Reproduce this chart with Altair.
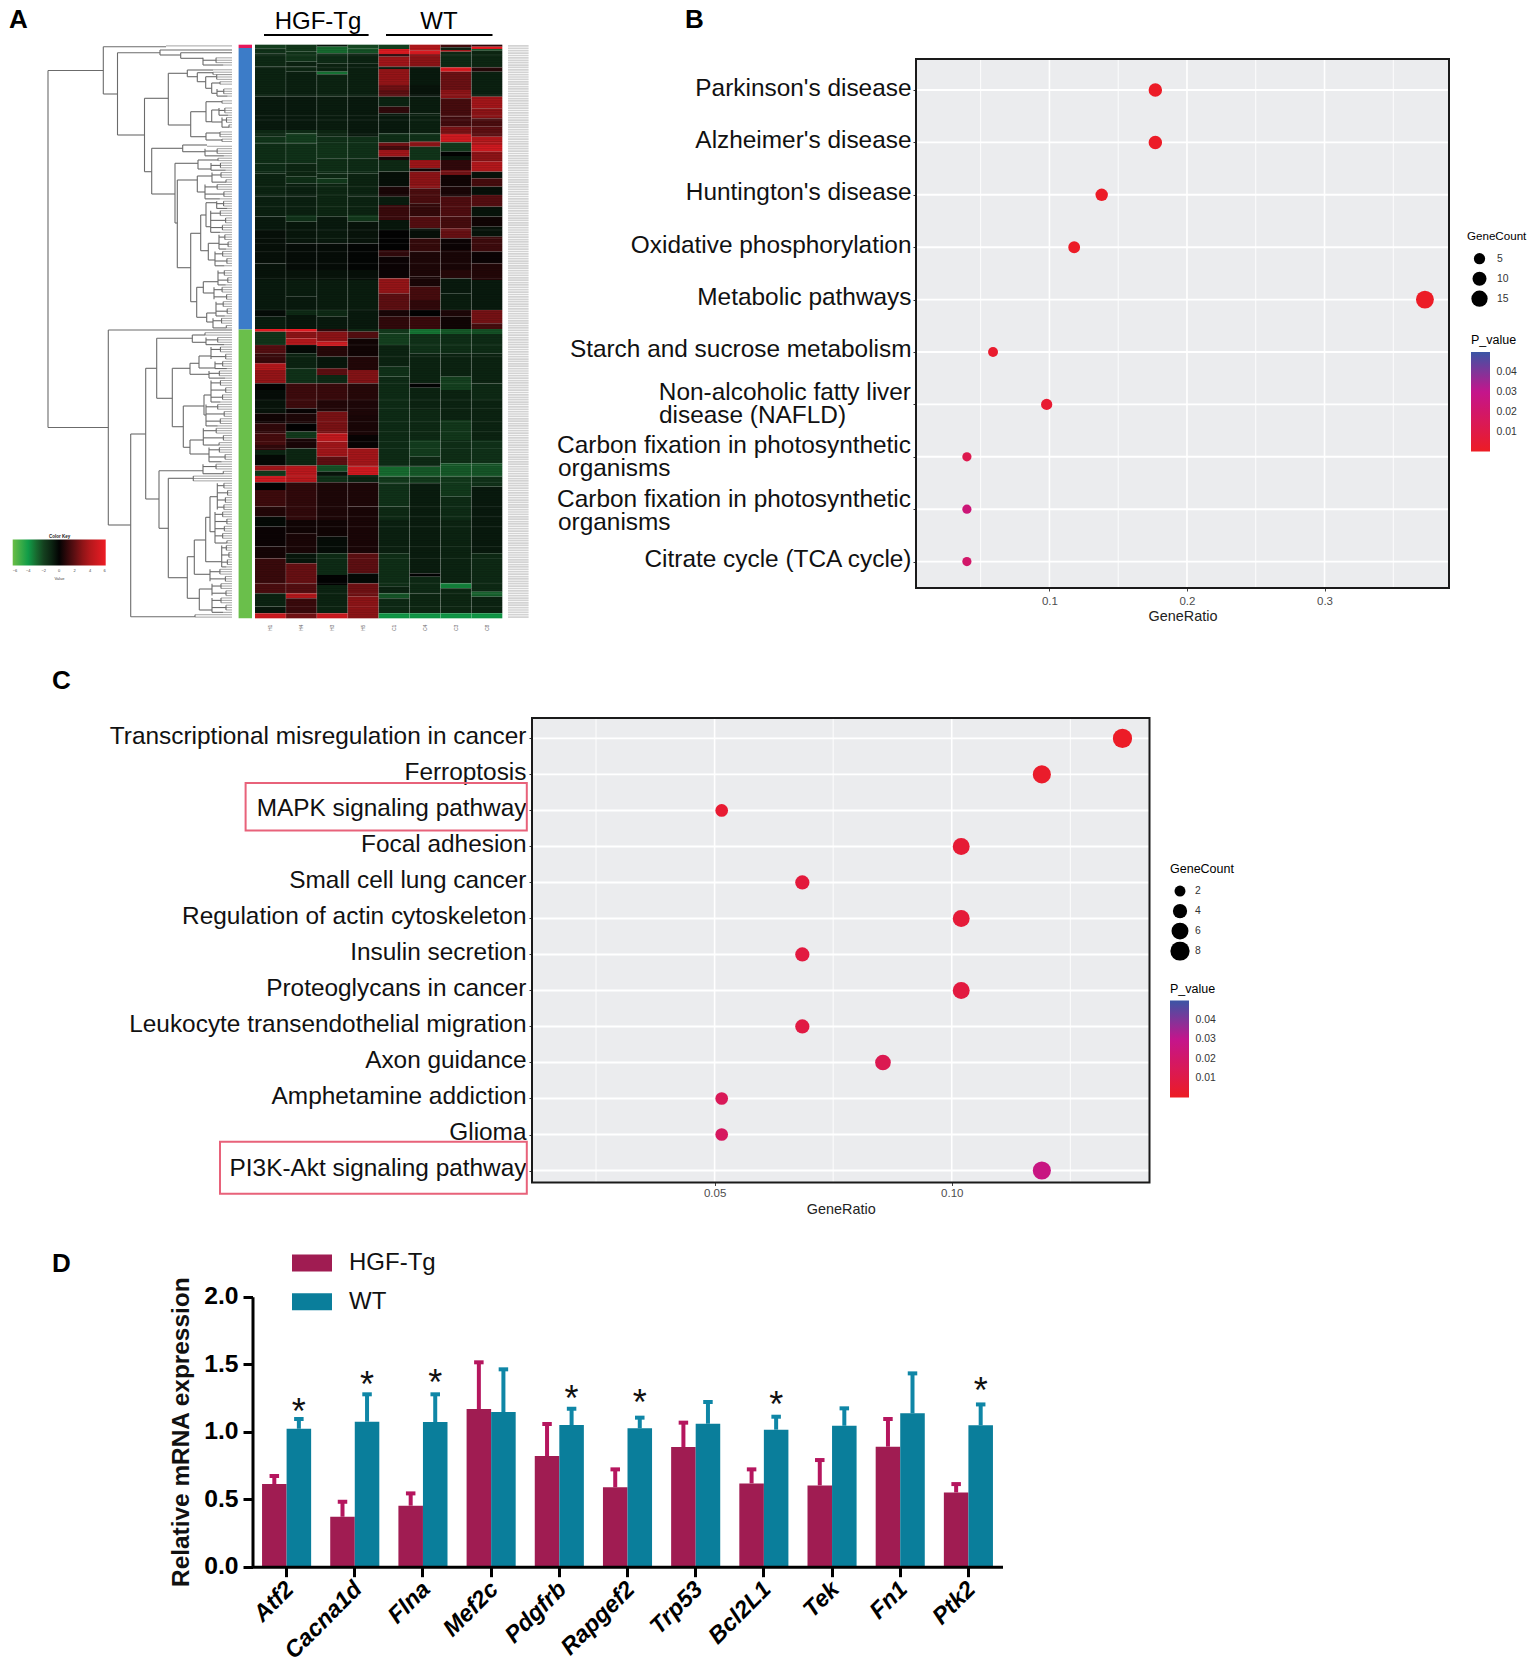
import altair as alt
import pandas as pd

FONT = "Liberation Sans"
PAGE_W, PAGE_H = 1519, 1649


def P(v):
    """reference-picture pixel -> position inside the svg (the page has an 8px margin)"""
    return v - 8


# ---------------------------------------------------------------- panel A data
samples = ["H1", "H4", "H3", "H5", "C1", "C4", "C3", "C8"]
# per sample: runs of (end of run, expression value), upper block of rows
heat_top_start = 44
heat_top = {
    "H1": [(55, -2.0), (70, -1.5), (110, -1.2), (200, -1), (300, -.7), (320, -1.2), (340, -1.6), (400, -1.4), (430, -1.3), (500, -1), (560, -.9), (600, -.7), (700, -.4), (750, -.5), (840, -.7), (860, -.3), (897, -.8)],
    "H4": [(65, -1.7), (95, -1.6), (110, -1), (125, -1.1), (200, -.9), (300, -.7), (310, -1.3), (340, -1.9), (400, -1.5), (440, -1.1), (460, -1.4), (500, -.9), (555, -.9), (575, -1.5), (640, -.6), (720, -.3), (750, -.5), (800, -.8), (840, -.7), (855, -1.2), (897, -.6)],
    "H3": [(50, -.6), (70, -3), (100, -1.3), (125, -1), (133, -3.2), (200, -1), (300, -.8), (320, -1.1), (345, -1.5), (385, -1.6), (430, -1.4), (445, -1.2), (460, -1.8), (560, -1.1), (640, -.7), (720, -.3), (750, -.5), (840, -.8), (860, -1.2), (897, -.7)],
    "H5": [(55, -2.2), (70, -2.4), (100, -1), (200, -.9), (320, -.7), (345, -1.5), (385, -1.5), (430, -1.3), (500, -1), (555, -1), (575, -1.7), (640, -.5), (720, -.1), (750, -.4), (840, -.8), (897, -.7)],
    "C1": [(57, -2), (72, 5.5), (80, 1), (110, 3.5), (117, -.8), (165, 3.2), (180, 2.4), (200, 2), (230, -1), (250, 1), (310, -.7), (338, -1.4), (348, 2.5), (360, 1.5), (380, 3.5), (390, .5), (425, -1.2), (470, -.4), (500, .5), (525, -.8), (570, 1.2), (600, -.6), (660, 0), (680, 1), (745, .2), (790, 3.2), (840, 2), (860, .5), (897, 1)],
    "C4": [(62, 4), (72, 5.5), (110, 3), (165, -.7), (200, -.5), (250, -.8), (310, -.9), (335, -1.5), (350, 3), (390, -1.6), (415, 3.4), (425, .3), (475, 3), (520, 1.6), (560, 1.1), (595, 1.8), (625, -.4), (665, 1.1), (740, .6), (770, .5), (810, 1.5), (840, 1), (860, 0), (897, 1.2)],
    "C3": [(52, 1.5), (60, -1), (65, 4), (112, -1.2), (125, 5.5), (180, 2.3), (205, 3), (260, 1.5), (290, 1.4), (312, 2.6), (337, 5), (365, -1.8), (378, 0), (390, -.7), (420, 1), (435, 2.5), (470, .3), (500, .5), (560, 1.7), (595, 1.5), (625, 2.2), (660, .2), (720, .5), (745, .8), (790, -.7), (840, -.8), (860, .6), (897, .3)],
    "C8": [(50, 1), (57, 6), (62, -2.5), (112, -1.1), (125, .8), (200, -.9), (235, 3.6), (265, 3), (290, 1.6), (320, 2), (345, 4), (365, 5), (395, 3), (425, 4), (445, -.5), (470, 1.5), (495, -.4), (530, 1.8), (560, -.5), (590, .3), (620, -.5), (665, 1.3), (700, .2), (750, .7), (840, -.7), (880, 2.5), (897, 1.5)],
}
# same, lower block of rows
heat_bottom_start = 27
heat_bottom = {
    "H1": [(35, 6.2), (75, -1.6), (100, 1.8), (130, 1.2), (150, 4), (190, 3.2), (210, 0), (240, -.3), (280, -.5), (310, .3), (340, 1), (375, 1.5), (390, 1), (405, -1), (437, -.2), (452, 3.5), (468, -1.8), (487, 5), (510, 0), (560, 1.3), (590, .7), (620, -.2), (680, .2), (715, .4), (790, 1.2), (820, 1.6), (860, -1), (880, -.6), (895, 5)],
    "H4": [(35, 6.2), (55, 3), (75, 4), (100, -.2), (145, -1), (190, -1.5), (265, 1.3), (280, .1), (310, .6), (335, 0), (355, -1.8), (385, .5), (437, -1.1), (487, 4.2), (600, 1), (640, .3), (700, .5), (730, -.6), (790, 2.2), (820, 1.8), (835, 4), (880, 1.2), (895, 2.5)],
    "H3": [(35, 1), (65, 3), (78, 5), (110, .8), (145, -.6), (165, 2), (190, -1.2), (240, 1.2), (275, .7), (340, 2.6), (365, 4.5), (410, 3.5), (435, 2), (455, -2.4), (468, -.5), (487, -1.5), (600, .6), (650, .3), (700, -.3), (765, -1.3), (795, 0), (880, -1), (895, 5)],
    "H5": [(35, -1.2), (55, 1.8), (110, .3), (150, .7), (190, 2.8), (240, .8), (285, .6), (345, .5), (385, .1), (440, 3.6), (465, 5), (487, -1), (560, .6), (700, .5), (760, 2), (790, -.2), (830, 2.4), (895, 3)],
    "C1": [(40, -1.8), (75, -2), (140, -1), (170, -1.5), (440, -1.3), (470, -3), (490, -1.8), (560, -1.5), (600, -1.2), (700, -.9), (800, -1.4), (820, -1), (835, -2.5), (880, -1.2), (895, -4)],
    "C4": [(42, -3.2), (100, -1.5), (190, -1), (203, 0), (270, -1), (360, -1.2), (410, -1.9), (440, -1.2), (470, -2.6), (490, -1.8), (760, -.8), (770, 0), (820, -1.2), (880, -1.1), (895, -4)],
    "C3": [(42, -2.6), (100, -1.4), (170, -1), (210, -2), (300, -1), (360, -1.7), (430, -1.4), (470, -2.6), (530, -1.8), (600, -1.3), (790, -1), (805, -3.5), (880, -1.1), (895, -4)],
    "C8": [(42, -2.4), (100, -1.3), (190, -1), (240, -1.2), (360, -1), (430, -1.5), (470, -2.5), (500, -1.5), (700, -.7), (815, -1.2), (830, -2.8), (880, -1), (895, -4)],
}
# faint light lines that cross the whole heatmap
heat_lines_top = [75, 112, 195, 257, 270, 312, 338, 425, 470, 495, 530, 560, 600, 625, 640, 665, 700, 745, 840]
heat_lines_bottom = [75, 110, 190, 240, 265, 305, 335, 365, 385, 437, 468, 487, 560, 590, 620, 680, 715, 790, 820, 860]
heat_key_ticks = [-6, -4, -2, 0, 2, 4, 6]
heat_stops = [-6, -4, -3, -2, -1, 0, 2, 3, 4, 6]
heat_stop_colors = ["#6abd45", "#109c48", "#176c30", "#14401f", "#0c2412", "#030303", "#5e0f12", "#8e1417", "#b5181c", "#ed1c24"]
cluster_bands = [("top", 44.7, 48, "#e6175b"), ("up", 48, 329.5, "#3c7cc8"), ("down", 329.5, 618.3, "#6abf4b")]

# dendrogram: fork = (joint, upper leaf position, lower leaf position, upper branch end, lower branch end)
dendro_forks = [
    (48, 70.5, 427.5, 103.3, 108.3), (103.3, 46.7, 94, 166, 117.5), (117.5, 52.7, 135, 160, 144.5),
    (160, 50, 55, 232, 180.7), (180.7, 52.7, 58.3, 232, 203), (144.5, 98.3, 171.7, 168.3, 151.7),
    (168.3, 73.3, 125, 187.3, 190.7), (187.3, 70, 76.7, 213, 197.3), (197.3, 72.7, 81.7, 213, 205.7),
    (205.7, 76.7, 88.3, 216.7, 211.7), (211.7, 83, 93.3, 220, 217), (190.7, 111.7, 136.7, 206, 206),
    (206, 101.7, 121.7, 222, 211.7), (211.7, 110, 122, 219, 222), (206, 133, 140, 220, 222),
    (151.7, 148.3, 194, 182.7, 175), (182.7, 145, 151.7, 207, 205), (175, 163.3, 223, 198, 177.3),
    (198, 160, 169, 218, 211), (177.3, 180, 267.7, 197.3, 190.7), (197.3, 176, 192, 212, 205),
    (190.7, 233.3, 301.7, 200.7, 196.7), (200.7, 215, 250.7, 206, 208.3), (206, 202.7, 226.7, 216.7, 210.7),
    (208.3, 243.3, 260, 219, 215), (196.7, 287.3, 317.3, 203.3, 206.7), (203.3, 281.7, 293, 218, 214),
    (206.7, 313, 322, 216, 213),
    (108.3, 330, 525, 232, 130.7), (130.7, 434, 616.7, 145.7, 195), (145.7, 368.3, 499, 156.7, 159),
    (156.7, 338.3, 398.3, 192.3, 172.3), (192.3, 335, 342.3, 205, 206), (172.3, 368.3, 426.7, 190, 183.3),
    (190, 363.3, 374.3, 199, 209), (199, 356, 368, 211, 215), (183.3, 406, 447.3, 204, 190),
    (204, 395, 415, 211, 206), (190, 440, 454, 203.3, 209), (159, 470.7, 528.3, 203, 168.3),
    (168.3, 478.3, 577.7, 193.3, 187.3), (187.3, 556.7, 598.3, 194.3, 199.3), (194.3, 540, 574.3, 205.7, 210),
    (205.7, 517.3, 561.7, 210, 221.7), (210, 496.7, 531.7, 217.3, 215), (199.3, 589, 610, 212, 212),
]
# terminal groups of leaves: (joint, first leaf position, last leaf position)
dendro_combs = [
    (166, 45.5, 48), (203, 57, 66), (213, 68, 72), (213, 71, 75), (216.7, 74, 80), (220, 81, 86), (217, 88, 97),
    (222, 99, 105), (219, 106, 116), (222, 117, 128), (220, 130, 137), (222, 138, 142), (207, 144, 146.5),
    (205, 147.5, 156), (218, 156, 163), (211, 163, 172), (212, 172, 184), (205, 184, 200), (216.7, 200, 210),
    (210.7, 210, 233), (219, 233, 250), (215, 250, 268), (218, 270, 286), (214, 286, 300), (216, 300, 318),
    (213, 318, 329), (205, 331, 337), (206, 337, 347), (211, 347, 361), (215, 361, 369), (209, 369, 379),
    (211, 379, 404), (206, 404, 426), (203.3, 426, 446), (209, 446, 462), (203, 462, 476), (193.3, 476, 481),
    (217.3, 481, 510), (215, 510, 545), (221.7, 545, 568), (210, 568, 582), (212, 582, 597), (212, 597, 614),
    (195, 614, 618),
]
leaf_first, leaf_step, leaf_count = 45.9, 2.39, 240
twig_share = [.45, .7, .55]

# ---------------------------------------------------------------- panel B data
b_terms = ["Parkinson's disease", "Alzheimer's disease", "Huntington's disease", "Oxidative phosphorylation",
           "Metabolic pathways", "Starch and sucrose metabolism", "Non-alcoholic fatty liver disease (NAFLD)",
           "Carbon fixation in photosynthetic organisms", "Carbon fixation in photosynthetic organisms (2)",
           "Citrate cycle (TCA cycle)"]
b_ratio = [.177, .177, .138, .118, .373, .059, .098, .04, .04, .04]
b_count = [9, 9, 7, 6, 19, 3, 5, 2, 2, 2]
b_pvalue = [.001, .001, .001, .001, .0005, .003, .004, .012, .024, .02]
b_wrapped_first = [("Non-alcoholic fatty liver disease (NAFLD)", "Non-alcoholic fatty liver"),
                   ("Carbon fixation in photosynthetic organisms", "Carbon fixation in photosynthetic")]
b_wrapped_first_low = [("Carbon fixation in photosynthetic organisms (2)", "Carbon fixation in photosynthetic")]
b_major, b_minor = [.1, .2, .3], [.05, .15, .25, .35]

# ---------------------------------------------------------------- panel C data
c_terms = ["Transcriptional misregulation in cancer", "Ferroptosis", "MAPK signaling pathway", "Focal adhesion",
           "Small cell lung cancer", "Regulation of actin cytoskeleton", "Insulin secretion", "Proteoglycans in cancer",
           "Leukocyte transendothelial migration", "Axon guidance", "Amphetamine addiction", "Glioma",
           "PI3K-Akt signaling pathway"]
c_ratio = [.136, .119, .0515, .102, .0685, .102, .0685, .102, .0685, .0855, .0515, .0515, .119]
c_count = [8, 7, 3, 6, 4, 6, 4, 6, 4, 5, 3, 3, 7]
c_pvalue = [.001, .002, .004, .005, .007, .006, .008, .008, .009, .013, .015, .017, .027]
c_major, c_minor = [.05, .10], [.025, .075, .125]

# ---------------------------------------------------------------- panel D data
genes = ["Atf2", "Cacna1d", "Flna", "Mef2c", "Pdgfrb", "Rapgef2", "Trp53", "Bcl2L1", "Tek", "Fn1", "Ptk2"]
hgf_mean = [.612, .37, .452, 1.168, .82, .588, .886, .617, .602, .889, .55]
hgf_upper = [.672, .481, .543, 1.514, 1.057, .721, 1.067, .721, .79, 1.094, .612]
wt_mean = [1.022, 1.074, 1.072, 1.146, 1.049, 1.025, 1.059, 1.015, 1.044, 1.136, 1.047]
wt_upper = [1.094, 1.277, 1.277, 1.462, 1.17, 1.104, 1.22, 1.111, 1.173, 1.432, 1.202]
star_genes = ["Atf2", "Cacna1d", "Flna", "Pdgfrb", "Rapgef2", "Bcl2L1", "Ptk2"]
star_level = [1.2, 1.40, 1.41, 1.296, 1.264, 1.247, 1.35]
groups = ["HGF-Tg", "WT"]
group_colors = ["#a01c52", "#0a7e9b"]
err_colors = ["#b5165e", "#0f86a6"]


# ---------------------------------------------------------------- helpers
def note(text, x, y, size, weight="normal", align="left", color="black", baseline="alphabetic"):
    return alt.Chart(alt.Data(values=[{"t": text}])).mark_text(
        font=FONT, fontSize=size, fontWeight=weight, align=align, baseline=baseline, color=color
    ).encode(text="t:N", x=alt.value(P(x)), y=alt.value(P(y)))


def box(x0, x1, y0, y1, fill=None, stroke=None, width=0):
    df = pd.DataFrame({"a": [0], "b": [1], "c": [0], "d": [1]})
    kw = dict(fill=fill, strokeWidth=width)
    if fill is None:
        kw = dict(filled=False, strokeWidth=width, fillOpacity=0)
    if stroke:
        kw["stroke"] = stroke
    return alt.Chart(df).mark_rect(**kw).encode(
        x=alt.X("a:Q", scale=alt.Scale(domain=[0, 1], range=[P(x0), P(x1)]), axis=None),
        x2="b:Q",
        y=alt.Y("c:Q", scale=alt.Scale(domain=[0, 1], range=[P(y0), P(y1)]), axis=None),
        y2="d:Q",
    )


# ---------------------------------------------------------------- panel A layers
HX0, HX1, HY0, HY1 = 255, 502.3, 44.67, 618.3
heat_rows = []
for s in samples:
    start = heat_top_start
    for end, v in heat_top[s]:
        heat_rows.append({"sample": s, "r0": 30 + start / 3, "r1": 30 + end / 3, "value": v})
        start = end
    start = heat_bottom_start
    for end, v in heat_bottom[s]:
        heat_rows.append({"sample": s, "r0": 320 + start / 3, "r1": 320 + end / 3, "value": v})
        start = end
heat_df = pd.DataFrame(heat_rows)
row_scale = lambda: alt.Scale(domain=[HY0, HY1], range=[P(HY0), P(HY1)])

heat = alt.Chart(heat_df).mark_rect(stroke=None).encode(
    x=alt.X("sample:N", sort=samples, title=None,
            scale=alt.Scale(type="band", domain=samples, range=[P(HX0), P(HX1)], paddingInner=0, paddingOuter=0),
            axis=alt.Axis(orient="bottom", offset=P(HY1) - PAGE_H, labelAngle=270, labelFontSize=5,
                          labelColor="#666", ticks=False, domain=False, labelPadding=9, grid=False,
                          labelAlign="center", labelBaseline="middle")),
    y=alt.Y("r0:Q", scale=row_scale(), axis=None),
    y2="r1:Q",
    color=alt.Color("value:Q", scale=alt.Scale(domain=heat_stops, range=heat_stop_colors, interpolate="rgb"),
                    legend=alt.Legend(orient="none", direction="horizontal", legendX=P(12.7), legendY=P(534),
                                      title="Color Key", titleFontSize=4.5, titleAnchor="middle", titleFontWeight="bold",
                                      titlePadding=1, gradientLength=93, gradientThickness=26, labelFontSize=4,
                                      values=heat_key_ticks, format="d", labelColor="#444", titleColor="#222",
                                      labelOffset=3, tickCount=7)),
)
heat_sep = alt.Chart(pd.DataFrame({"k": list(range(1, 8))})).mark_rule(color="#ffffff", opacity=.2, strokeWidth=.7).encode(
    x=alt.X("k:Q", scale=alt.Scale(domain=[0, 8], range=[P(HX0), P(HX1)]), axis=None),
    y=alt.value(P(HY0)), y2=alt.value(P(HY1)),
)
heat_light = alt.Chart(pd.DataFrame({"r": [30 + z / 3 for z in heat_lines_top] + [320 + z / 3 for z in heat_lines_bottom]})).mark_rule(
    color="#ffffff", opacity=.13, strokeWidth=.7).encode(
    y=alt.Y("r:Q", scale=row_scale(), axis=None), x=alt.value(P(HX0)), x2=alt.value(P(HX1)),
)
leaves = [leaf_first + k * leaf_step for k in range(leaf_count)]
heat_dark = alt.Chart(pd.DataFrame({"r": leaves})).mark_rule(color="#000000", opacity=.16, strokeWidth=.8).encode(
    y=alt.Y("r:Q", scale=row_scale(), axis=None), x=alt.value(P(HX0)), x2=alt.value(P(HX1)),
)
bands = alt.Chart(pd.DataFrame(cluster_bands, columns=["name", "r0", "r1", "col"])).mark_rect().encode(
    x=alt.value(P(238.6)), x2=alt.value(P(252)),
    y=alt.Y("r0:Q", scale=row_scale(), axis=None), y2="r1:Q",
    color=alt.Color("col:N", scale=None, legend=None),
)
strip_df = pd.DataFrame({"r0": [r - .8 for r in leaves], "r1": [r + .9 for r in leaves]})
strip = alt.Chart(strip_df).mark_rect(color="#d3d3d3").encode(
    x=alt.value(P(508)), x2=alt.value(P(528.6)),
    y=alt.Y("r0:Q", scale=row_scale(), axis=None), y2="r1:Q",
)
seg_dark, seg_leaf = [], []
for j, a, b, ca, cb in dendro_forks:
    seg_dark.append((j, j, a, b))
    seg_dark.append((j, ca, a, a))
    seg_dark.append((j, cb, b, b))
for j, a, b in dendro_combs:
    rows = [r for r in leaves if a <= r <= b] or [(a + b) / 2]
    seg_dark.append((j, j, rows[0], rows[-1]))
    if len(rows) < 4:
        for r in rows:
            seg_leaf.append((j, 232, r, r))
        continue
    for i in range(0, len(rows), 3):
        part = rows[i:i + 3]
        mid = j + (232 - j) * twig_share[(i // 3) % 3]
        centre = part[len(part) // 2]
        seg_dark.append((j, mid, centre, centre))
        seg_dark.append((mid, mid, part[0], part[-1]))
        for r in part:
            seg_leaf.append((mid, 232, r, r))


def dendro(seg, color, width):
    df = pd.DataFrame(seg, columns=["d0", "d1", "r0", "r1"])
    return alt.Chart(df).mark_rule(color=color, strokeWidth=width).encode(
        x=alt.X("d0:Q", scale=alt.Scale(domain=[48, 232], range=[P(48), P(232)]), axis=None),
        x2="d1:Q",
        y=alt.Y("r0:Q", scale=row_scale(), axis=None),
        y2="r1:Q",
    )


panel_a = [
    dendro(seg_leaf, "#9a9a9a", .9), dendro(seg_dark, "#6b6b6b", 1.1),
    bands, heat, heat_dark, heat_light, heat_sep, strip,
    note("HGF-Tg", 318, 29, 24, align="center"), note("WT", 439, 29, 24, align="center"),
    box(264, 368.6, 35, 35, stroke="#000", width=2), box(386, 492.5, 35, 35, stroke="#000", width=2),
    note("Value", 59.4, 580, 4, align="center", color="#444"),
]


# ---------------------------------------------------------------- panels B and C
def dot_panel(terms, ratio, count, pvalue, xdom, xr, yr, pad, align_, major, minor, xfmt, tick_vals,
              size_dom, size_rng, size_vals, size_pos, size_title, symbol_shift, col_pos, grad_len, label_pad, x_label_pad,
              blank=None):
    x0, x1 = xr
    y0, y1 = yr
    xscale = lambda: alt.Scale(domain=xdom, range=[P(x0), P(x1)])
    yscale = lambda: alt.Scale(type="point", domain=terms, range=[P(y0), P(y1)], padding=pad, align=align_)
    df = pd.DataFrame({"term": terms, "ratio": ratio, "count": count, "p": pvalue})
    out = [box(x0, x1, y0, y1, fill="#ebecee")]
    for vals, w in ((minor, .9), (major, 1.6)):
        out.append(alt.Chart(pd.DataFrame({"g": vals})).mark_rule(color="white", strokeWidth=w).encode(
            x=alt.X("g:Q", scale=xscale(), axis=None), y=alt.value(P(y0)), y2=alt.value(P(y1))))
    out.append(alt.Chart(pd.DataFrame({"term": terms})).mark_rule(color="white", strokeWidth=1.9).encode(
        y=alt.Y("term:N", scale=yscale(), axis=None), x=alt.value(P(x0)), x2=alt.value(P(x1))))
    label_expr = "datum.label"
    if blank:
        label_expr = "indexof(" + str(blank) + ", datum.label) >= 0 ? '' : datum.label"
    out.append(alt.Chart(df).mark_circle(opacity=1).encode(
        x=alt.X("ratio:Q", scale=xscale(), title="GeneRatio",
                axis=alt.Axis(orient="bottom", offset=P(y1) - PAGE_H, values=tick_vals, format=xfmt, domain=False, grid=False,
                              tickSize=3, tickColor="#444", labelFontSize=11.5, labelColor="#4d4d4d", labelPadding=x_label_pad,
                              titleFontSize=14.4, titleFontWeight="normal", titleColor="#222", titlePadding=3,
                              labelFlush=False)),
        y=alt.Y("term:N", scale=yscale(), title=None,
                axis=alt.Axis(orient="left", offset=-P(x0), domain=False, grid=False, tickSize=3, tickColor="#333",
                              labelFontSize=24.4, labelColor="#111", labelLimit=800, labelPadding=label_pad,
                              labelOverlap=False, labelExpr=label_expr, labelOffset=-2)),
        size=alt.Size("count:Q", scale=alt.Scale(domain=size_dom, range=size_rng),
                      legend=alt.Legend(orient="none", legendX=P(size_pos[0]), legendY=P(size_pos[1]), title="GeneCount",
                                        titleFontSize=size_title, titleFontWeight="normal", titlePadding=6.5, values=size_vals,
                                        symbolFillColor="#000", symbolStrokeWidth=0, symbolType="circle", symbolOpacity=1,
                                        symbolOffset=symbol_shift,
                                        labelFontSize=10.4, labelColor="#333", clipHeight=19.2, rowPadding=0,
                                        labelOffset=5 + symbol_shift)),
        color=alt.Color("p:Q", scale=alt.Scale(domain=[0, .03, .05], range=["#ed1c24", "#c4158c", "#3b55a5"], interpolate="rgb"),
                        legend=alt.Legend(orient="none", legendX=P(col_pos[0]), legendY=P(col_pos[1]), title="P_value",
                                          titleFontSize=12.5, titleFontWeight="normal", titlePadding=5.5,
                                          gradientLength=grad_len, gradientThickness=19, gradientStrokeWidth=0,
                                          values=[.01, .02, .03, .04], format=".2f", labelFontSize=10.4, labelColor="#333",
                                          labelOffset=6.5)),
    ))
    out.append(box(x0, x1, y0, y1, stroke="#1a1a1a", width=2))
    return out, yscale


b_blank = [k for k, _ in b_wrapped_first + b_wrapped_first_low]
panel_b, b_yscale = dot_panel(b_terms, b_ratio, b_count, b_pvalue, [.003, .3905], (916, 1449), (59, 588), .548, .54,
                              b_major, b_minor, ".1f", b_major, [2, 19], [85, 320], [5, 10, 15],
                              (1467, 231), 11.6, 4, (1471, 334), 99.5, 2, 4, blank=b_blank)


def b_line(rows, align, px, dy):
    df = pd.DataFrame(rows, columns=["term", "line"])
    return alt.Chart(df).mark_text(font=FONT, fontSize=24.4, align=align, baseline="middle", dy=dy, color="#111").encode(
        y=alt.Y("term:N", scale=b_yscale(), axis=None), x=alt.value(P(px)), text="line:N")


panel_b += [
    b_line(b_wrapped_first, "right", 911, -11),
    b_line(b_wrapped_first_low, "right", 911, -9.5),
    b_line([(b_terms[6], "disease (NAFLD)")], "left", 659, 12),
    b_line([(b_terms[7], "organisms")], "left", 558, 12),
    b_line([(b_terms[8], "organisms")], "left", 558, 13.5),
]

panel_c, _ = dot_panel(c_terms, c_ratio, c_count, c_pvalue, [.0115, .1417], (532, 1149.5), (718, 1182.5), .45, .63,
                       c_major, c_minor, ".2f", c_major, [2, 8], [120, 370], [2, 4, 6, 8],
                       (1170, 862.5), 12.5, 0, (1170, 982.5), 97, 3, 2)
panel_c.append(box(245.6, 526.8, 783, 830.5, stroke="#e8627a", width=2))
panel_c.append(box(220, 526.8, 1141.7, 1193.8, stroke="#e8627a", width=2))

# ---------------------------------------------------------------- panel D
DX0, DX1 = 252.5, 1002.5
DY0, DY2 = 1566.7, 1296.7
d_df = pd.DataFrame({
    "gene": genes * 2,
    "group": [groups[0]] * len(genes) + [groups[1]] * len(genes),
    "mean": hgf_mean + wt_mean,
    "upper": hgf_upper + wt_upper,
})
dx = lambda axis=None: alt.X("gene:N", sort=genes, title=None, axis=axis,
                             scale=alt.Scale(type="band", domain=genes, range=[P(DX0), P(DX1)], paddingInner=.28, paddingOuter=.14))
dxo = lambda: alt.XOffset("group:N", sort=groups, scale=alt.Scale(domain=groups))
dy = lambda f, axis=None: alt.Y(f, axis=axis, scale=alt.Scale(domain=[0, 2], range=[P(DY0), P(DY2)]))
d_xaxis = alt.Axis(orient="bottom", offset=P(DY0) - PAGE_H, labelAngle=-45, labelAlign="right", labelBaseline="top", labelFontSize=23.5,
                   labelFontWeight="bold", labelFontStyle="italic", labelColor="black", labelPadding=0, labelOffset=-5, domainWidth=3,
                   domainColor="black", tickWidth=3, tickSize=10, tickColor="black", grid=False, labelOverlap=False,
                   labelLimit=300, zindex=1)
d_yaxis = alt.Axis(orient="left", offset=-P(DX0), values=[0, .5, 1, 1.5, 2], format=".1f", domainWidth=3, domainColor="black",
                   tickWidth=3, tickSize=9.5, tickColor="black", labelFontSize=24.7, labelFontWeight="bold", labelColor="black",
                   labelPadding=5, grid=False, title="Relative mRNA expression", titleFontSize=24.4, titleFontWeight="bold",
                   titleColor="#111", titlePadding=10, zindex=1)
d_bars = alt.Chart(d_df).mark_bar(stroke=None).encode(
    x=dx(d_xaxis), xOffset=dxo(), y=dy("mean:Q", d_yaxis),
    color=alt.Color("group:N", scale=alt.Scale(domain=groups, range=group_colors),
                    legend=alt.Legend(orient="none", legendX=P(292), legendY=P(1251), title=None, symbolType="M-1,-.425H1V.425H-1Z",
                                      symbolSize=1600, symbolStrokeWidth=0, symbolOpacity=1, labelFontSize=24, labelColor="#111",
                                      labelOffset=17, clipHeight=24, rowPadding=14.7)),
)
d_err = alt.Chart(d_df).mark_rule(strokeWidth=4).encode(
    x=dx(), xOffset=dxo(), y=dy("mean:Q"), y2="upper:Q",
    color=alt.Color("group:N", scale=alt.Scale(domain=groups, range=err_colors), legend=None),
)
d_cap = alt.Chart(d_df).mark_tick(size=9.5, thickness=4, opacity=1).encode(
    x=dx(), xOffset=dxo(), y=dy("upper:Q"),
    color=alt.Color("group:N", scale=alt.Scale(domain=groups, range=err_colors), legend=None),
)
stars = pd.DataFrame({"gene": star_genes, "group": groups[1], "level": star_level, "mark": "*"})
d_star = alt.Chart(stars).mark_text(font=FONT, fontSize=36, baseline="alphabetic", dy=19, color="#111").encode(
    x=dx(), xOffset=dxo(), y=dy("level:Q"), text="mark:N",
)
panel_d = [d_err, d_cap, d_bars, d_star]

letters = [note("A", 9, 28, 26, "bold"), note("B", 685, 28, 26, "bold"),
           note("C", 52, 689, 26, "bold"), note("D", 52, 1272, 26, "bold")]

chart = alt.layer(*(panel_a + panel_b + panel_c + panel_d + letters)).resolve_scale(
    x="independent", y="independent", color="independent", size="independent", xOffset="independent"
).resolve_axis(x="independent", y="independent").resolve_legend(color="independent", size="independent").properties(
    width=PAGE_W, height=PAGE_H, padding=0, autosize=alt.AutoSizeParams(type="none")
).configure(font=FONT).configure_view(stroke=None)

chart.save("out.html", embed_options={"renderer": "svg", "actions": False})
